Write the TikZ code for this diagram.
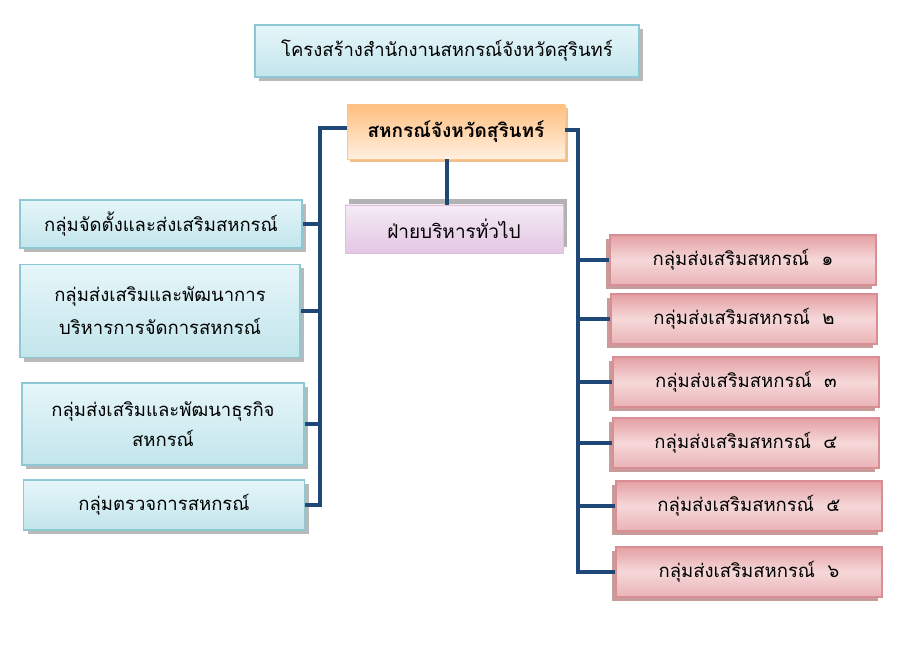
\documentclass[tikz,border=0pt]{standalone}
\usepackage{fontspec}
\newfontfamily\thaifont[Script=Thai]{Loma}
\usetikzlibrary{shadows}
\definecolor{linknavy}{HTML}{1F4778}
\definecolor{cyanedge}{HTML}{8CC9D4}
\definecolor{pinkedge}{HTML}{D88E93}
\definecolor{pinktop}{HTML}{E4A0A4}
\definecolor{pinkmid}{HTML}{F6D8D9}
\definecolor{cyantop}{HTML}{E6F6F9}
\definecolor{cyanbot}{HTML}{C2E5EC}

\begin{document}
\begin{tikzpicture}[x=1pt,y=-1pt,
    every node/.style={font=\thaifont\fontsize{18.5}{24}\selectfont, align=center, inner sep=2pt},
    bluebox/.style={draw=cyanedge, line width=1.2pt, top color=cyantop, bottom color=cyanbot,
      drop shadow={shadow xshift=4pt, shadow yshift=-4pt, fill=gray!55, opacity=1}},
    pinkbox/.style={draw=pinkedge, line width=1.2pt, top color=pinktop, bottom color=pinktop!80, middle color=pinkmid,
      drop shadow={shadow xshift=-4pt, shadow yshift=-4pt, fill=red!30!gray!60, opacity=1},
      minimum width=266pt, minimum height=50pt},
    link/.style={draw=linknavy, line width=4.5pt}]
    \useasboundingbox (0,0) rectangle (900,655);
    \node[bluebox, minimum width=384pt, minimum height=52pt, font=\thaifont\fontsize{18.5}{22}\selectfont] (title) at (447,51) {โครงสร้างสำนักงานสหกรณ์จังหวัดสุรินทร์};
    \node[draw=orange!45, top color=orange!50, bottom color=orange!12, minimum width=218pt, minimum height=54pt,
      font=\thaifont\bfseries\fontsize{19}{24}\selectfont,
      drop shadow={shadow xshift=3pt, shadow yshift=-3pt, fill=orange!60!brown!50, opacity=1}] (head) at (456,132) {สหกรณ์จังหวัดสุรินทร์};
    \node[draw=violet!25, top color=violet!8, bottom color=violet!22, minimum width=218pt, minimum height=48pt,
      font=\thaifont\fontsize{19}{24}\selectfont,
      drop shadow={shadow xshift=4pt, shadow yshift=6pt, fill=gray!60, opacity=1}] (admin) at (454,229) {ฝ่ายบริหารทั่วไป};
    \node[bluebox, minimum width=282pt, minimum height=48pt] (g1) at (161,224) {กลุ่มจัดตั้งและส่งเสริมสหกรณ์};
    \node[bluebox, minimum width=280pt, minimum height=93pt] (g2) at (160,311) {กลุ่มส่งเสริมและพัฒนาการ\\[9pt]บริหารการจัดการสหกรณ์};
    \node[bluebox, minimum width=282pt, minimum height=82pt] (g3) at (163,424) {กลุ่มส่งเสริมและพัฒนาธุรกิจ\\[6pt]สหกรณ์};
    \node[bluebox, minimum width=281pt, minimum height=50pt] (g4) at (164,505) {กลุ่มตรวจการสหกรณ์};
    \node[pinkbox] (p1) at (743,260) {กลุ่มส่งเสริมสหกรณ์\ \ ๑};
    \node[pinkbox] (p2) at (744,319) {กลุ่มส่งเสริมสหกรณ์\ \ ๒};
    \node[pinkbox] (p3) at (746,382) {กลุ่มส่งเสริมสหกรณ์\ \ ๓};
    \node[pinkbox] (p4) at (746,443) {กลุ่มส่งเสริมสหกรณ์\ \ ๔};
    \node[pinkbox] (p5) at (749,506) {กลุ่มส่งเสริมสหกรณ์\ \ ๕};
    \node[pinkbox] (p6) at (749,572) {กลุ่มส่งเสริมสหกรณ์\ \ ๖};
    % spines
    \coordinate (lspine) at (320,128);
    \coordinate (rspine) at (578,130);
    \draw[link] (head.west |- lspine) -- (lspine) -- (lspine |- g4.east) -- (g4.east);
    \draw[link] (g1.east) -- (lspine |- g1.east);
    \draw[link] (g2.east) -- (lspine |- g2.east);
    \draw[link] (g3.east) -- (lspine |- g3.east);
    \draw[link] (head.east |- rspine) -- (rspine) -- (rspine |- p6.west) -- (p6.west);
    \draw[link] (rspine |- p1.west) -- (p1.west);
    \draw[link] (rspine |- p2.west) -- (p2.west);
    \draw[link] (rspine |- p3.west) -- (p3.west);
    \draw[link] (rspine |- p4.west) -- (p4.west);
    \draw[link] (rspine |- p5.west) -- (p5.west);
    \draw[link] (head.south -| 447,0) -- (admin.north -| 447,0);
  \end{tikzpicture}
\end{document}
